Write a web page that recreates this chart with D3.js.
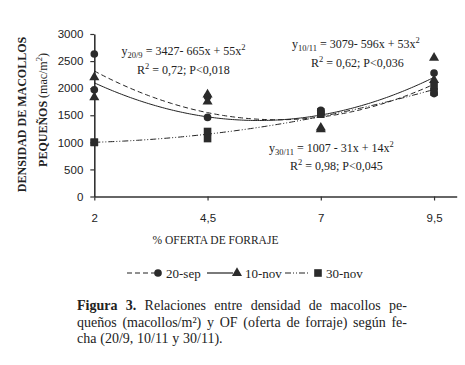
<!DOCTYPE html>
<html><head><meta charset="utf-8">
<script src="https://cdn.jsdelivr.net/npm/d3@7"></script>
<style>
html,body{margin:0;padding:0;background:#fff;}
svg{display:block;}
</style></head>
<body>
<script>
// ---- data ----
const seriesNames = ["20-sep", "10-nov", "30-nov"];
const pointX = [2, 2, 4.5, 4.5, 7, 7, 9.5, 9.5];
const sep20 = [2630, 1970, 1840, 1460, 1590, 1540, 2280, 1900];
const nov10 = [2200, 1830, 1880, 1750, 1270, 1240, 2560, 2150];
const nov30 = [1000, 1000, 1200, 1070, 1560, 1520, 2040, 1930];
// regression coefficients shown in the chart (a + b*x + c*x^2)
const coefSep20 = [3427, -665, 55];
const coefNov10 = [3079, -596, 53];
const coefNov30 = [1007, -31, 14];
const xTicks = [2, 4.5, 7, 9.5];
const xTickLabels = ["2", "4,5", "7", "9,5"];
const yTicks = [0, 500, 1000, 1500, 2000, 2500, 3000];

const W = 465, H = 365;
const svg = d3.select("body").append("svg").attr("width", W).attr("height", H);

const x = d3.scaleLinear().domain([2, 10]).range([94.3, 456.7]);
const y = d3.scaleLinear().domain([0, 3000]).range([196.5, 34]);

const ink = "#2b2b2b";
const serif = "Liberation Serif, Times New Roman, serif";
const sans = "Liberation Sans, Arial, sans-serif";

// axes
const xAxis = d3.axisBottom(x).tickValues(xTicks).tickFormat((d, i) => xTickLabels[i]).tickSize(4).tickSizeOuter(0);
const gx = svg.append("g").attr("transform", `translate(0,${y(0)})`).call(xAxis);
const yAxis = d3.axisLeft(y).tickValues(yTicks).tickFormat(d3.format("d")).tickSize(4).tickSizeOuter(0);
const gy = svg.append("g").attr("transform", `translate(${x(2)},0)`).call(yAxis);
[gx, gy].forEach(g => {
  g.select(".domain").attr("stroke", "#333").attr("stroke-width", 1.6);
  g.selectAll(".tick line").attr("stroke", "#333").attr("stroke-width", 1.2);
  g.selectAll(".tick text").attr("fill", "#222").attr("font-family", sans).attr("font-size", "11.5px");
});
gx.selectAll(".tick text").attr("dy", "1.65em");
gy.selectAll(".tick text").attr("dx", "-4");

// trend curves
const xs = d3.range(2, 9.5001, 0.05);
const poly = c => v => c[0] + c[1] * v + c[2] * v * v;
const line = f => d3.line().x(d => x(d)).y(d => y(f(d)));
const curves = [
  {c: coefSep20, dash: "5,3"},
  {c: coefNov10, dash: null},
  {c: coefNov30, dash: "6,2,1,2,1,2"}
];
curves.forEach(cv => {
  svg.append("path").datum(xs).attr("d", line(poly(cv.c))).attr("fill", "none")
    .attr("stroke", "#222").attr("stroke-width", 1).attr("stroke-dasharray", cv.dash);
});

// markers
const sym = {
  circle: d3.symbol().type(d3.symbolCircle).size(46),
  triangle: d3.symbol().type(d3.symbolTriangle).size(44),
  square: d3.symbol().type(d3.symbolSquare).size(58)
};
const pts = [
  {vals: sep20, s: sym.circle},
  {vals: nov10, s: sym.triangle},
  {vals: nov30, s: sym.square}
];
pts.forEach(p => {
  svg.append("g").selectAll("path").data(p.vals).join("path")
    .attr("d", p.s()).attr("fill", ink)
    .attr("transform", (d, i) => `translate(${x(pointX[i])},${y(d)})`);
});

// equations
function equation(x0, yb, sub, rest) {
  const t = svg.append("text").attr("x", x0).attr("y", yb).attr("font-family", serif)
    .attr("font-size", "12px").attr("fill", "#222");
  t.append("tspan").text("y");
  t.append("tspan").attr("font-size", "8.5px").attr("dy", 3).text(sub);
  t.append("tspan").attr("dy", -3).text(" = " + rest);
  t.append("tspan").attr("font-size", "8.5px").attr("dy", -5).text("2");
}
function rsq(x0, yb, txt) {
  const t = svg.append("text").attr("x", x0).attr("y", yb).attr("font-family", serif)
    .attr("font-size", "12px").attr("fill", "#222");
  t.append("tspan").text("R");
  t.append("tspan").attr("font-size", "8.5px").attr("dy", -5).text("2");
  t.append("tspan").attr("dy", 5).text(" = " + txt);
}
equation(121.5, 55, "20/9", "3427- 665x + 55x");
rsq(137, 74, "0,72; P<0,018");
equation(292, 47.5, "10/11", "3079- 596x + 53x");
rsq(311, 67, "0,62; P<0,036");
equation(269, 152, "30/11", "1007 - 31x + 14x");
rsq(290, 169.5, "0,98; P<0,045");

// y title
svg.append("text").attr("transform", "translate(26,114.5) rotate(-90)")
  .attr("text-anchor", "middle").attr("font-family", serif).attr("font-weight", "bold")
  .attr("font-size", "12px").attr("fill", "#222").text("DENSIDAD DE MACOLLOS");
const yt2 = svg.append("text").attr("transform", "translate(47,110) rotate(-90)")
  .attr("text-anchor", "middle").attr("font-family", serif)
  .attr("font-size", "12px").attr("fill", "#222");
yt2.append("tspan").attr("font-weight", "bold").text("PEQUEÑOS ");
yt2.append("tspan").text("(mac/m");
yt2.append("tspan").attr("font-size", "8.5px").attr("dy", -5).text("2");
yt2.append("tspan").attr("dy", 5).text(")");

// x title
svg.append("text").attr("x", 215.5).attr("y", 244).attr("text-anchor", "middle")
  .attr("font-family", serif).attr("font-size", "11.5px").attr("fill", "#222")
  .text("% OFERTA DE FORRAJE");

// legend
const leg = [
  {x0: 127, x1: 155, mx: 158, tx: 166, dash: "5,3", s: sym.circle},
  {x0: 207, x1: 233, mx: 237, tx: 245, dash: null, s: sym.triangle},
  {x0: 285, x1: 310, mx: 318, tx: 326, dash: "6,2,1,2,1,2", s: sym.square}
];
leg.forEach((l, i) => {
  const ly = 273;
  svg.append("line").attr("x1", l.x0).attr("x2", l.x1).attr("y1", ly).attr("y2", ly)
    .attr("stroke", "#222").attr("stroke-width", 1.2).attr("stroke-dasharray", l.dash);
  svg.append("path").attr("d", l.s()).attr("fill", ink).attr("transform", `translate(${l.mx},${ly})`);
  svg.append("text").attr("x", l.tx).attr("y", ly + 4.5).attr("font-family", serif)
    .attr("font-size", "13px").attr("fill", "#222").text(seriesNames[i]);
});

// caption (justified)
const capLines = [
  {words: [["Figura", 1], ["3.", 1], ["Relaciones", 0], ["entre", 0], ["densidad", 0], ["de", 0], ["macollos", 0], ["pe-", 0]], just: true},
  {words: [["queños", 0], ["(macollos/m²)", 0], ["y", 0], ["OF", 0], ["(oferta", 0], ["de", 0], ["forraje)", 0], ["según", 0], ["fe-", 0]], just: true},
  {words: [["cha", 0], ["(20/9,", 0], ["10/11", 0], ["y", 0], ["30/11).", 0]], just: false}
];
const cx0 = 77, cx1 = 407, base0 = 310, lh = 16.5;
capLines.forEach((ln, li) => {
  const nodes = ln.words.map(w => svg.append("text").attr("y", base0 + li * lh)
    .attr("font-family", serif).attr("font-size", "14px").attr("fill", "#222")
    .attr("font-weight", w[1] ? "bold" : "normal").text(w[0]));
  const widths = nodes.map(n => n.node().getComputedTextLength());
  const total = d3.sum(widths);
  const gap = ln.just ? (cx1 - cx0 - total) / (nodes.length - 1) : 3.8;
  let cx = cx0;
  nodes.forEach((n, i) => { n.attr("x", cx); cx += widths[i] + gap; });
});
</script>
</body></html>
